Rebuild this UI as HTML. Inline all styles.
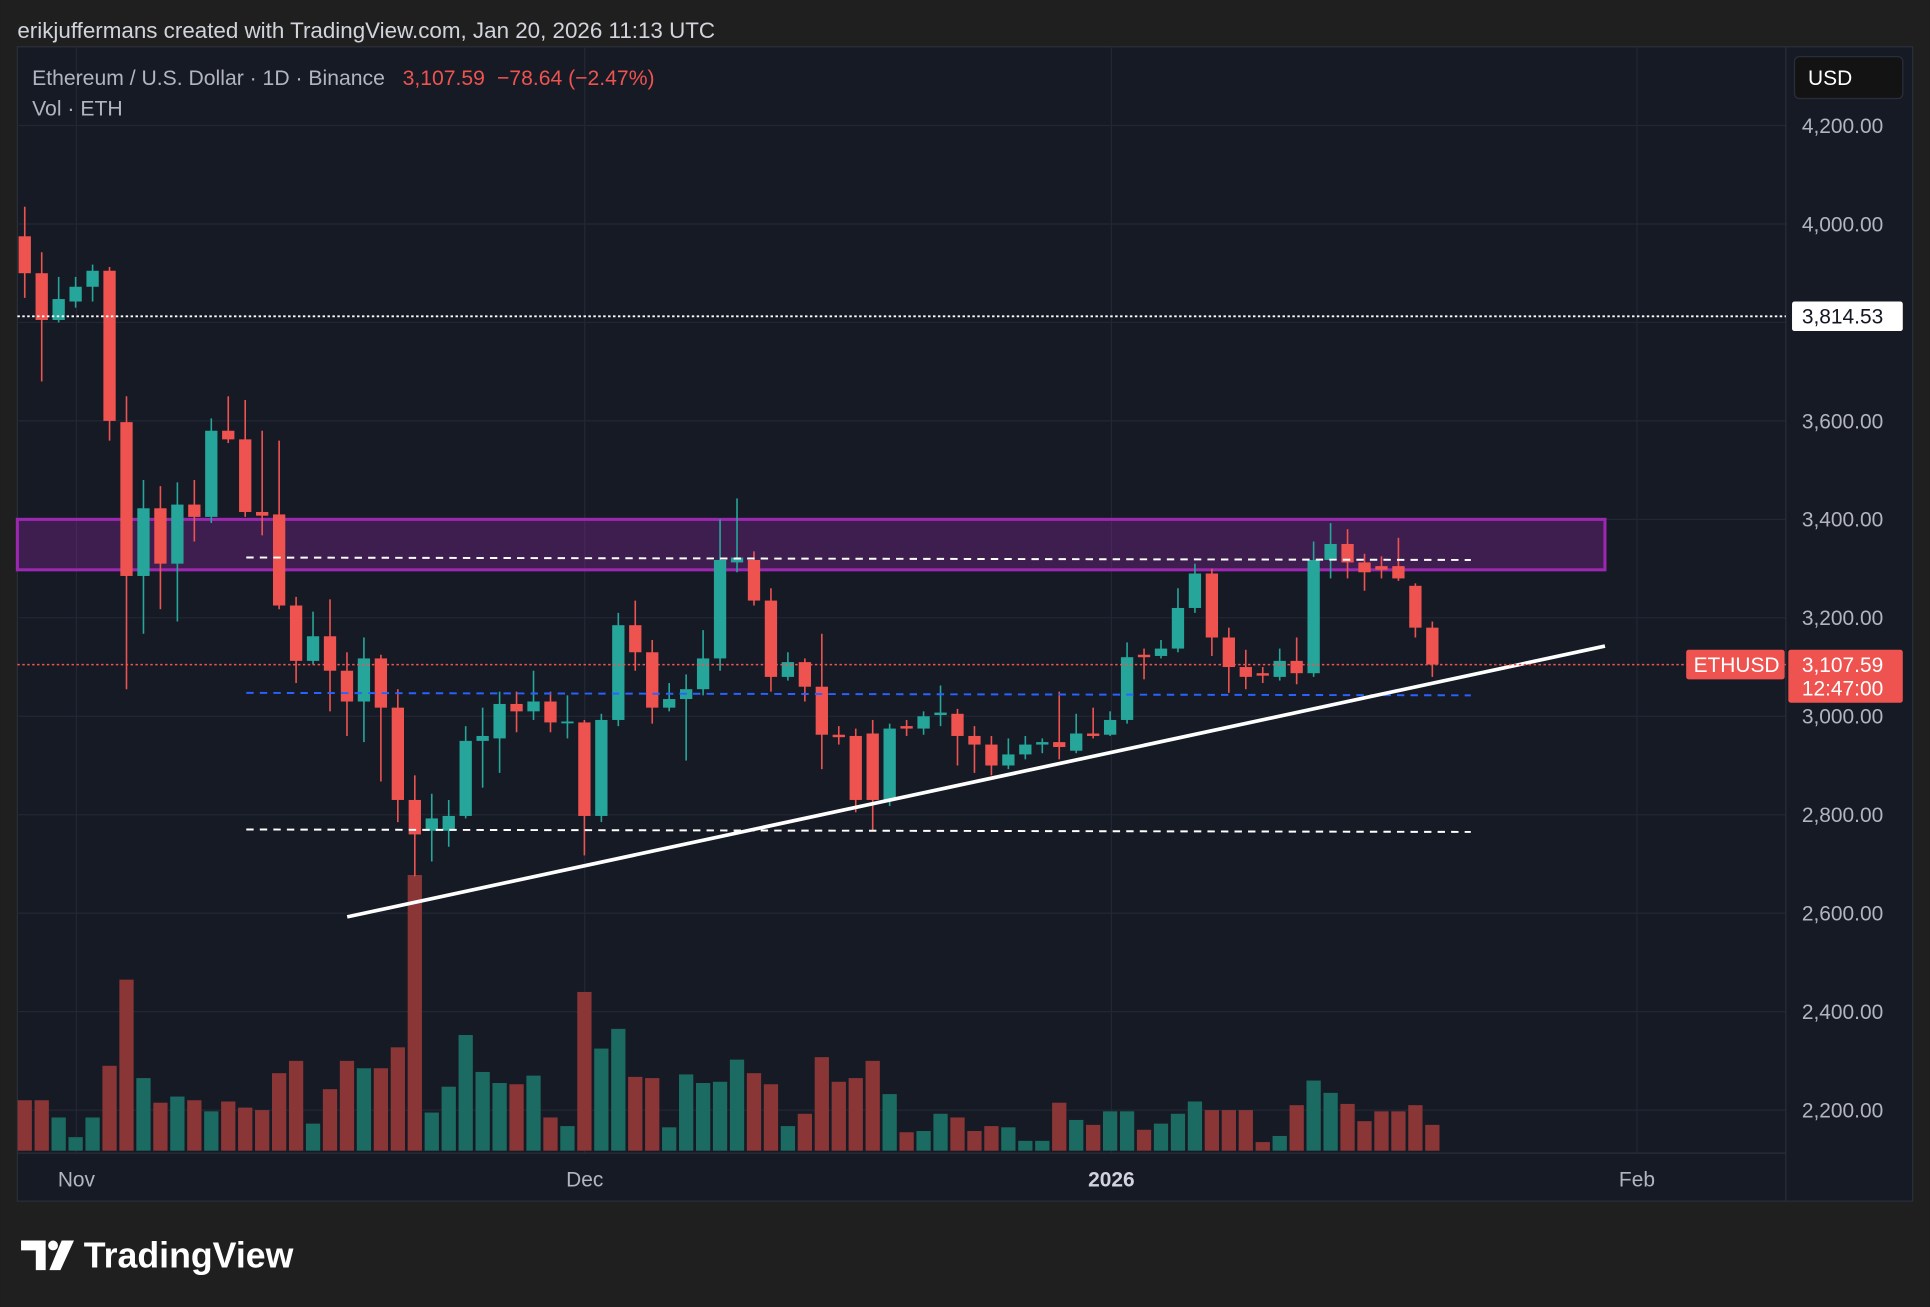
<!DOCTYPE html>
<html><head><meta charset="utf-8"><style>
html,body{margin:0;padding:0;background:#1f1f1f;width:1930px;height:1307px;overflow:hidden}
svg{display:block}
text{font-family:"Liberation Sans",sans-serif}
</style></head><body>
<svg id="s" width="1930" height="1307" viewBox="0 0 1568 1062" xmlns="http://www.w3.org/2000/svg">
<rect x="0" y="0" width="1568" height="1062" fill="#1f1f1f"/>
<text x="14" y="31" fill="#d1d4dc" font-size="18.2">erikjuffermans created with TradingView.com, Jan 20, 2026 11:13 UTC</text>
<rect x="14" y="38" width="1540" height="938" fill="#161a25" stroke="#2a2e39" stroke-width="1"/>
<g stroke="#232734" stroke-width="1">
<line x1="14" x2="1451" y1="102" y2="102"/><line x1="14" x2="1451" y1="182" y2="182"/>
<line x1="14" x2="1451" y1="262" y2="262"/><line x1="14" x2="1451" y1="342" y2="342"/>
<line x1="14" x2="1451" y1="422" y2="422"/><line x1="14" x2="1451" y1="502" y2="502"/>
<line x1="14" x2="1451" y1="582" y2="582"/><line x1="14" x2="1451" y1="662" y2="662"/>
<line x1="14" x2="1451" y1="742" y2="742"/><line x1="14" x2="1451" y1="822" y2="822"/>
<line x1="14" x2="1451" y1="902" y2="902"/>
<line x1="62" x2="62" y1="38" y2="937"/><line x1="475" x2="475" y1="38" y2="937"/>
<line x1="903" x2="903" y1="38" y2="937"/><line x1="1330" x2="1330" y1="38" y2="937"/>
</g>
<line x1="1451" x2="1451" y1="38" y2="976" stroke="#2a2e39"/>
<line x1="14" x2="1451" y1="937" y2="937" stroke="#2a2e39"/>
<g id="vol"></g>
<rect x="14" y="422" width="1290" height="41" fill="rgba(156,39,176,0.3)" stroke="#9c27b0" stroke-width="2.5"/>
<g id="cdl"></g>
<line x1="200" x2="1195" y1="453" y2="455" stroke="#fff" stroke-width="1.6" stroke-dasharray="6,5"/>
<line x1="200" x2="1195" y1="563" y2="565" stroke="#2962ff" stroke-width="1.6" stroke-dasharray="6,5"/>
<line x1="200" x2="1195" y1="674" y2="676" stroke="#fff" stroke-width="1.6" stroke-dasharray="6,5"/>
<line x1="282" y1="745" x2="1304" y2="525" stroke="#fff" stroke-width="3"/>
<line x1="14" x2="1451" y1="257" y2="257" stroke="#fff" stroke-width="1.5" stroke-dasharray="2,2"/>
<line x1="14" x2="1451" y1="540" y2="540" stroke="#ef5350" stroke-width="1.2" stroke-dasharray="2,2"/>
<text x="26" y="69" font-size="17.2" fill="#b2b5be">Ethereum / U.S. Dollar · 1D · Binance</text>
<text x="327" y="69" font-size="17.2" fill="#ef5350">3,107.59 <tspan dx="5">−78.64 (−2.47%)</tspan></text>
<text x="26" y="94" font-size="17.2" fill="#b2b5be">Vol · ETH</text>
<rect x="1458" y="46" width="88" height="34" rx="4" fill="#131313" stroke="#2a2e39"/>
<text x="1469" y="69" font-size="17" fill="#fff">USD</text>
<g font-size="17" fill="#b2b5be">
<text x="1464" y="108">4,200.00</text><text x="1464" y="188">4,000.00</text>
<text x="1464" y="348">3,600.00</text><text x="1464" y="428">3,400.00</text>
<text x="1464" y="508">3,200.00</text><text x="1464" y="588">3,000.00</text>
<text x="1464" y="668">2,800.00</text><text x="1464" y="748">2,600.00</text>
<text x="1464" y="828">2,400.00</text><text x="1464" y="908">2,200.00</text>
</g>
<rect x="1456" y="245" width="90" height="24" rx="2" fill="#fff"/>
<text x="1464" y="263" font-size="17" fill="#131722">3,814.53</text>
<rect x="1370" y="528" width="80" height="24" rx="2" fill="#ef5350"/>
<text x="1376" y="546" font-size="17" fill="#fff">ETHUSD</text>
<rect x="1453" y="528" width="93" height="43" rx="2" fill="#ef5350"/>
<text x="1464" y="546" font-size="17" fill="#fff">3,107.59</text>
<text x="1464" y="565" font-size="17" fill="#fff">12:47:00</text>
<g font-size="17" fill="#b2b5be" text-anchor="middle">
<text x="62" y="964">Nov</text><text x="475" y="964">Dec</text>
<text x="903" y="964" font-weight="bold" fill="#d1d4dc">2026</text><text x="1330" y="964">Feb</text>
</g>
<g fill="#fff">
<path d="M17 1008h20v24h-8v-16h-12z"/><circle cx="43" cy="1012" r="4"/><path d="M50 1008h10l-11 24h-9z"/>
</g>
<text x="68" y="1030" font-size="29" font-weight="bold" fill="#fff">TradingView</text>
</svg>
<script>
var d=[[192,222,168,242,'r'],[222,260,205,310,'r'],[260,243,225,262,'g'],[245,233,225,250,'g'],[233,220,215,245,'g'],[220,342,217,358,'r'],[343,468,322,560,'r'],[468,413,390,515,'g'],[413,458,395,495,'r'],[458,410,392,505,'g'],[410,420,390,440,'r'],[420,350,340,425,'g'],[350,357,322,360,'r'],[357,416,325,420,'r'],[416,419,350,435,'r'],[418,492,358,495,'r'],[492,537,485,555,'r'],[537,517,497,540,'g'],[517,545,487,578,'r'],[545,570,530,598,'r'],[570,535,518,603,'g'],[535,575,532,635,'r'],[575,650,560,668,'r'],[650,678,630,712,'r'],[675,665,645,700,'g'],[675,663,650,688,'g'],[663,602,590,665,'g'],[602,598,575,640,'g'],[600,572,562,628,'g'],[572,578,562,595,'r'],[578,570,545,585,'g'],[570,587,562,595,'r'],[588,587,565,600,'g'],[587,663,585,695,'r'],[663,585,580,668,'g'],[585,508,498,590,'g'],[508,530,488,545,'r'],[530,575,520,588,'r'],[575,568,555,578,'g'],[568,560,548,618,'g'],[560,535,512,565,'g'],[535,455,422,545,'g'],[457,453,405,465,'g'],[455,488,448,492,'r'],[488,550,478,562,'r'],[550,538,530,553,'g'],[538,558,535,570,'r'],[558,597,515,625,'r'],[597,599,590,605,'r'],[598,650,592,660,'r'],[596,650,585,675,'r'],[650,592,588,655,'g'],[590,592,585,598,'r'],[592,582,578,597,'g'],[581,579,557,590,'g'],[580,598,576,622,'r'],[598,605,590,628,'r'],[605,622,598,630,'r'],[622,613,600,625,'g'],[613,605,598,617,'g'],[605,603,600,612,'g'],[603,607,562,617,'r'],[610,596,580,612,'g'],[596,598,575,600,'r'],[597,585,578,598,'g'],[585,534,522,588,'g'],[532,534,527,552,'r'],[533,527,520,535,'g'],[527,494,478,530,'g'],[494,466,458,498,'g'],[466,518,462,533,'r'],[518,542,510,563,'r'],[542,550,528,560,'r'],[547,549,542,555,'r'],[550,537,527,553,'g'],[537,547,518,556,'r'],[547,455,440,550,'g'],[455,442,425,470,'g'],[442,457,430,470,'r'],[457,465,450,480,'r'],[460,463,452,470,'r'],[460,470,437,472,'r'],[476,510,474,518,'r'],[510,540,505,550,'r']];
var v=[894,894,908,924,908,866,796,876,896,891,894,903,895,900,902,872,862,913,885,862,868,868,851,711,904,883,841,871,880,881,874,908,915,806,852,836,875,876,916,873,880,879,861,872,881,915,905,859,879,876,862,889,920,919,905,908,919,915,916,927,927,896,910,914,903,903,918,913,905,895,902,902,902,928,923,898,878,888,897,911,903,903,898,914];
var C=document.getElementById('cdl'),V=document.getElementById('vol'),h='',vh='';
for(var i=0;i<d.length;i++){var x=20+i*13.78,a=d[i],col=a[4]=='g'?'#26a69a':'#ef5350',t=Math.min(a[0],a[1]),b=Math.max(a[0],a[1]);if(b-t<1.5){t-=0.75;b=t+1.5;}
h+='<line x1="'+x+'" x2="'+x+'" y1="'+a[2]+'" y2="'+a[3]+'" stroke="'+col+'" stroke-width="1.3"/><rect x="'+(x-5)+'" y="'+t+'" width="10" height="'+(b-t)+'" fill="'+col+'"/>';
vh+='<rect x="'+(x-5.8)+'" y="'+v[i]+'" width="11.6" height="'+(935-v[i])+'" fill="'+(a[4]=='g'?'#1b6b63':'#8a3637')+'"/>';}
C.innerHTML=h;V.innerHTML=vh;
</script>
</body></html>
